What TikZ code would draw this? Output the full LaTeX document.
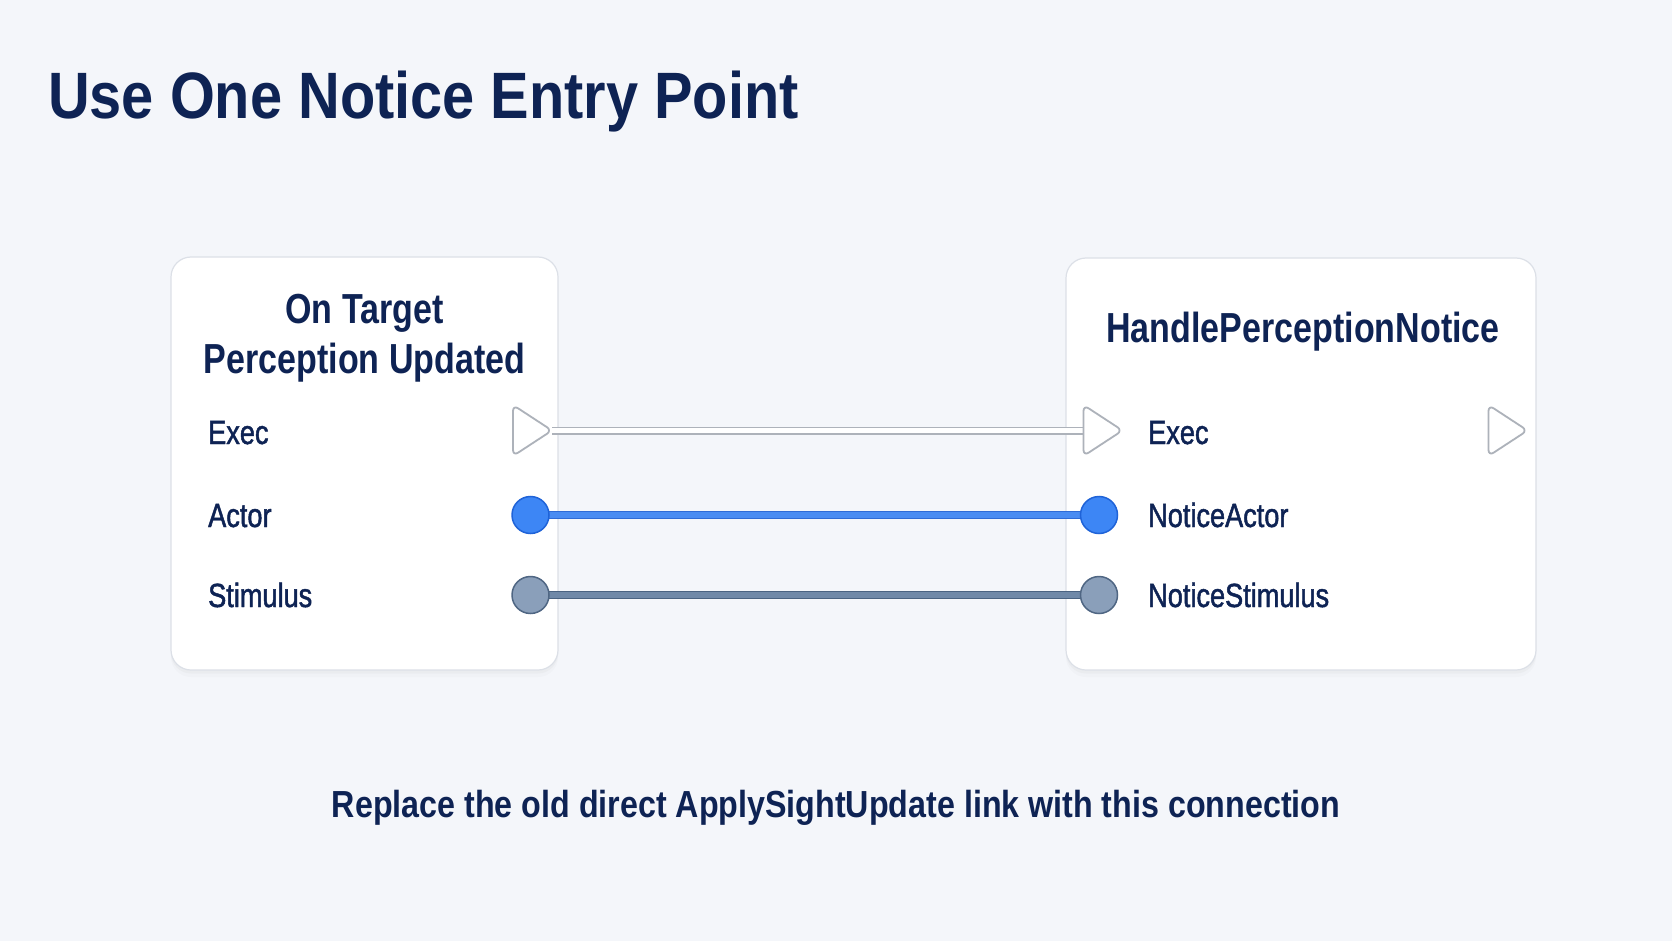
\documentclass[tikz,border=0pt]{standalone}
\usepackage{fontspec}
\setmainfont{Liberation Sans}
\newfontfamily\headfont[FakeStretch=0.88]{Liberation Sans}
\newfontfamily\nodetitlefont[FakeStretch=0.81]{Liberation Sans}
\newfontfamily\pinfont[FakeStretch=0.81,FakeBold=1.4]{Liberation Sans}
\newfontfamily\capfont[FakeStretch=0.855]{Liberation Sans}
\usetikzlibrary{shadows}
\definecolor{bgcol}{HTML}{F4F6FA}
\definecolor{boxline}{HTML}{DCE0E7}
\definecolor{textnavy}{HTML}{0E2354}
\definecolor{execline}{HTML}{ADB2BA}
\definecolor{bluefill}{HTML}{3D86F5}
\definecolor{blueline}{HTML}{1F63D8}
\definecolor{bluewire}{HTML}{4A8CF2}
\definecolor{bluewireedge}{HTML}{2F6BD6}
\definecolor{grayfill}{HTML}{8A9FBA}
\definecolor{grayline}{HTML}{4F6683}
\definecolor{graywire}{HTML}{7089A8}
\definecolor{graywireedge}{HTML}{4A6382}
\pgfdeclarelayer{wires}
\pgfdeclarelayer{back}
\pgfsetlayers{back,wires,main}
\begin{document}
\begin{tikzpicture}[x=1pt,y=-1pt,
  box/.style={draw=boxline, line width=1.2pt, fill=white, rounded corners=20pt, inner sep=0pt,
    drop shadow={shadow xshift=0pt, shadow yshift=-7pt, opacity=0.03},
    drop shadow={shadow xshift=0pt, shadow yshift=-3.5pt, opacity=0.05}},
  pinslot/.style={minimum width=39pt, minimum height=51pt, inner sep=0pt, outer sep=0pt},
  execpin/.style={draw=execline, fill=white, line width=1.8pt, rounded corners=6pt, line join=round},
  datapin/.style={circle, minimum size=37pt, inner sep=0pt, outer sep=0pt, line width=1.5pt},
  bluepin/.style={datapin, fill=bluefill, draw=blueline},
  graypin/.style={datapin, fill=grayfill, draw=grayline},
  execwire/.style={draw=execline, line width=1.5pt, double=white, double distance=5pt},
  bluelink/.style={draw=bluewireedge, line width=0.9pt, double=bluewire, double distance=6pt},
  graylink/.style={draw=graywireedge, line width=1pt, double=graywire, double distance=5.5pt},
  headtext/.style={text=textnavy, font=\headfont\bfseries\fontsize{65.6}{70}\selectfont, inner sep=0pt},
  ntitle/.style={text=textnavy, font=\nodetitlefont\bfseries\fontsize{42}{46}\selectfont, inner sep=0pt},
  pinlabel/.style={text=textnavy, font=\pinfont\fontsize{33.5}{36}\selectfont, inner sep=0pt},
  captext/.style={text=textnavy, font=\capfont\bfseries\fontsize{37.7}{40}\selectfont, inner sep=0pt}
]
\begin{pgfonlayer}{back}
\fill[bgcol] (0,0) rectangle (1672,941);
\node[box, minimum width=387pt, minimum height=413pt] (L) at (364.5,463.5) {};
\node[box, minimum width=470pt, minimum height=412pt] (R) at (1301,464) {};
\end{pgfonlayer}
\useasboundingbox (0,0) rectangle (1672,941);

% heading
\node[headtext, anchor=base west] (head) at (48,119) {Use One Notice Entry Point};

% node titles
\node[ntitle, anchor=base] (Lt1) at (364.5,323) {On Target};
\node[ntitle, anchor=base] (Lt2) at (364.5,373) {Perception Updated};
\node[ntitle, anchor=base] (Rt) at (1303,342) {HandlePerceptionNotice};

% labels
\node[pinlabel, anchor=base west] (LExecL) at (208,444) {Exec};
\node[pinlabel, anchor=base west] (LActL) at (208,527) {Actor};
\node[pinlabel, anchor=base west] (LStimL) at (208,607) {Stimulus};
\node[pinlabel, anchor=base west] (RExecL) at (1148,444) {Exec};
\node[pinlabel, anchor=base west] (RActL) at (1148,527) {NoticeActor};
\node[pinlabel, anchor=base west] (RStimL) at (1148,607) {NoticeStimulus};

% pins
\node[pinslot] (LE) at (532.5,430.5) {};
\node[pinslot] (RE) at (1103,430.5) {};
\node[pinslot] (RO) at (1508,430.5) {};
\draw[execpin] (LE.north west) -- (LE.east) -- (LE.south west) -- cycle;
\draw[execpin] (RE.north west) -- (RE.east) -- (RE.south west) -- cycle;
\draw[execpin] (RO.north west) -- (RO.east) -- (RO.south west) -- cycle;
\node[bluepin] (LA) at (530.5,515) {};
\node[graypin] (LS) at (530.5,595) {};
\node[bluepin] (RA) at (1099,515) {};
\node[graypin] (RS) at (1099,595) {};

% wires
\begin{pgfonlayer}{wires}
\draw[execwire] (LE.east) -- (RE.west);
\draw[bluelink] (LA.center) -- (RA.center);
\draw[graylink] (LS.center) -- (RS.center);
\end{pgfonlayer}

% caption
\node[captext, anchor=base] (cap) at (836,817) {Replace the old direct ApplySightUpdate link with this connection};
\end{tikzpicture}
\end{document}
